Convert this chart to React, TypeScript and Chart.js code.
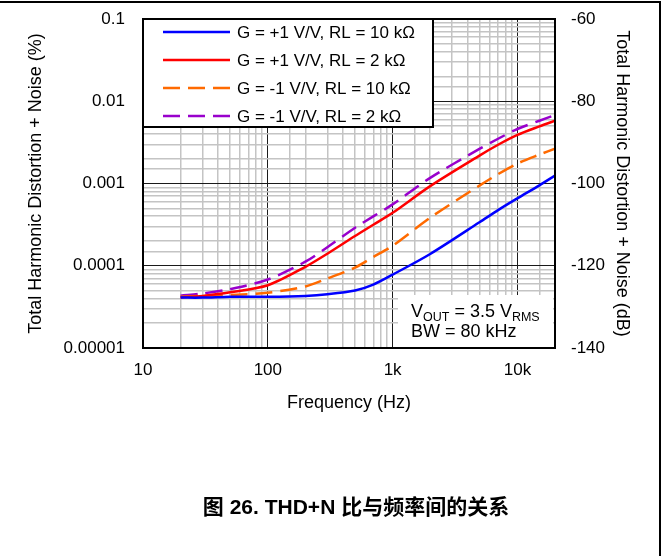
import React, { useEffect, useRef } from "react";
import { Chart, registerables } from "chart.js";

Chart.register(...registerables);

// ---------- data ----------
const frequenciesHz = [20, 30, 50, 100, 200, 300, 500, 700, 1000, 2000, 5000, 7000, 10000, 15000, 20000];

const seriesLabels = [
  "G = +1 V/V, RL = 10 kΩ",
  "G = +1 V/V, RL = 2 kΩ",
  "G = -1 V/V, RL = 10 kΩ",
  "G = -1 V/V, RL = 2 kΩ",
];

const thdG1RL10k = [4.1e-5, 4.1e-5, 4.2e-5, 4.2e-5, 4.3e-5, 4.5e-5, 5.0e-5, 5.9e-5, 7.8e-5, 1.39e-4, 3.4e-4, 4.75e-4, 6.6e-4, 9.5e-4, 1.25e-3];
const thdG1RL2k = [4.1e-5, 4.3e-5, 4.76e-5, 5.8e-5, 9.7e-5, 1.4e-4, 2.3e-4, 3.15e-4, 4.4e-4, 9.3e-4, 2.2e-3, 2.96e-3, 3.9e-3, 4.95e-3, 5.8e-3];
const thdGm1RL10k = [4.2e-5, 4.3e-5, 4.4e-5, 4.7e-5, 5.6e-5, 7.0e-5, 9.5e-5, 1.28e-4, 1.75e-4, 3.84e-4, 9.5e-4, 1.3e-3, 1.75e-3, 2.25e-3, 2.65e-3];
const thdGm1RL2k = [4.33e-5, 4.6e-5, 5.2e-5, 6.8e-5, 1.12e-4, 1.68e-4, 2.9e-4, 3.98e-4, 5.57e-4, 1.17e-3, 2.65e-3, 3.5e-3, 4.6e-3, 5.8e-3, 6.8e-3];

const xDecadeValues = [10, 100, 1000, 10000];
const xDecadeLabels = ["10", "100", "1k", "10k"];
const yDecadeValues = [1e-5, 1e-4, 1e-3, 1e-2, 1e-1];
const yDecadeLabels = ["0.00001", "0.0001", "0.001", "0.01", "0.1"];
const dbMin = -140;
const dbMax = -60;
const dbStep = 20;

const xTitle = "Frequency (Hz)";
const yTitle = "Total Harmonic Distortion + Noise (%)";
const y2Title = "Total Harmonic Distortion + Noise (dB)";
const caption = "图 26. THD+N 比与频率间的关系";

// ---------- styling ----------
const FONT = "'Liberation Sans', Arial, 'Noto Sans CJK SC', sans-serif";
const seriesColors = ["#0000ff", "#ff0000", "#ff6a00", "#9900cc"];
const seriesDashes: number[][] = [[], [], [17, 8], [17, 8]];
const seriesValues = [thdG1RL10k, thdG1RL2k, thdGm1RL10k, thdGm1RL2k];

const isDecade = (v: any) => {
  if (typeof v !== "number" || v <= 0) return false;
  const l = Math.log10(v);
  return Math.abs(l - Math.round(l)) < 1e-9;
};

const labelFor = (v: number, vals: number[], labels: string[]) => {
  for (let i = 0; i < vals.length; i++) {
    if (Math.abs(Math.log10(v) - Math.log10(vals[i])) < 1e-9) return labels[i];
  }
  return "";
};

const gridColor = (ctx: any) => (ctx.tick && isDecade(ctx.tick.value) ? "#1a1a1a" : "#c4c4c4");
const gridWidth = (ctx: any) => (ctx.tick && isDecade(ctx.tick.value) ? 1 : 1.5);

const boxesPlugin = {
  id: "thdBoxes",
  beforeDatasetsDraw(chart: any) {
    const { ctx, chartArea: a } = chart;
    ctx.save();
    // legend box
    const lx = a.left;
    const ly = a.top;
    const lw = 290;
    const lh = 108;
    ctx.fillStyle = "#ffffff";
    ctx.fillRect(lx, ly, lw, lh);
    ctx.lineWidth = 2;
    ctx.strokeStyle = "#000000";
    ctx.strokeRect(lx, ly, lw, lh);
    chart.data.datasets.forEach((ds: any, i: number) => {
      const y = ly + 13 + i * 28;
      ctx.beginPath();
      ctx.setLineDash(ds.borderDash || []);
      ctx.strokeStyle = ds.borderColor;
      ctx.lineWidth = ds.borderWidth;
      ctx.moveTo(lx + 20, y);
      ctx.lineTo(lx + 87, y);
      ctx.stroke();
      ctx.setLineDash([]);
      ctx.fillStyle = "#000000";
      ctx.font = `17px ${FONT}`;
      ctx.textBaseline = "middle";
      ctx.textAlign = "left";
      ctx.fillText(ds.label, lx + 94, y + 1);
    });
    // annotation box
    const bx = 398;
    const by = 295;
    ctx.fillStyle = "#ffffff";
    ctx.fillRect(bx, by, a.right - 2 - bx, a.bottom - by);
    ctx.fillStyle = "#000000";
    ctx.textBaseline = "alphabetic";
    ctx.textAlign = "left";
    let x = 411;
    const base1 = 317;
    const parts: [string, number, number][] = [
      ["V", 18, 0],
      ["OUT", 12.5, 3.5],
      [" = 3.5 V", 18, 0],
      ["RMS", 12.5, 3.5],
    ];
    for (const [t, s, dy] of parts) {
      ctx.font = `${s}px ${FONT}`;
      ctx.fillText(t, x, base1 + dy);
      x += ctx.measureText(t).width;
    }
    ctx.font = `18px ${FONT}`;
    ctx.fillText("BW = 80 kHz", 411, 337);
    ctx.restore();
  },
  afterDatasetsDraw(chart: any) {
    const { ctx, chartArea: a } = chart;
    ctx.save();
    ctx.lineWidth = 2;
    ctx.strokeStyle = "#000000";
    ctx.strokeRect(a.left, a.top, a.right - a.left, a.bottom - a.top);
    ctx.restore();
  },
};

const fitV = (w: number) => (s: any) => {
  s.width = w;
  s.paddingTop = 0;
  s.paddingBottom = 0;
};

export default function App() {
  const canvasRef = useRef<HTMLCanvasElement | null>(null);

  useEffect(() => {
    if (!canvasRef.current) return;
    const datasets = seriesValues.map((vals, i) => ({
      label: seriesLabels[i],
      data: frequenciesHz.map((f, j) => ({ x: f, y: vals[j] })),
      borderColor: seriesColors[i],
      backgroundColor: seriesColors[i],
      borderDash: seriesDashes[i],
      borderWidth: 2.5,
      pointRadius: 0,
      fill: false,
      tension: 0.3,
    }));

    const chart = new Chart(canvasRef.current, {
      type: "line",
      data: { datasets },
      plugins: [boxesPlugin],
      options: {
        responsive: false,
        animation: false,
        layout: { padding: { top: 19, left: 0, right: 0, bottom: 0 } },
        plugins: {
          legend: { display: false },
          tooltip: { enabled: false },
          title: { display: false },
        },
        scales: {
          x: {
            type: "logarithmic",
            position: "bottom",
            min: 10,
            max: 20000,
            afterFit: (s: any) => {
              s.height = 208;
              s.paddingLeft = 0;
              s.paddingRight = 0;
            },
            grid: { color: gridColor, lineWidth: gridWidth, drawTicks: false },
            border: { display: false },
            ticks: {
              autoSkip: false,
              maxRotation: 0,
              minRotation: 0,
              padding: 12,
              color: "#000",
              font: { family: FONT, size: 17 },
              callback: (v: any) => labelFor(Number(v), xDecadeValues, xDecadeLabels),
            },
            title: {
              display: true,
              text: xTitle,
              color: "#000",
              font: { family: FONT, size: 18 },
              padding: { top: 0, bottom: 142 },
            },
          },
          y: {
            type: "logarithmic",
            position: "left",
            min: 1e-5,
            max: 0.1,
            afterFit: fitV(143),
            grid: { color: gridColor, lineWidth: gridWidth, drawTicks: false },
            border: { display: false },
            ticks: {
              autoSkip: false,
              padding: 18,
              color: "#000",
              font: { family: FONT, size: 17 },
              callback: (v: any) => labelFor(Number(v), yDecadeValues, yDecadeLabels),
            },
            title: {
              display: true,
              text: yTitle,
              color: "#000",
              font: { family: FONT, size: 18 },
              padding: { top: 25, bottom: 0 },
            },
          },
          y2: {
            type: "linear",
            position: "right",
            min: dbMin,
            max: dbMax,
            afterFit: fitV(114),
            grid: { display: false, drawTicks: false },
            border: { display: false },
            ticks: {
              stepSize: dbStep,
              padding: 16,
              color: "#000",
              font: { family: FONT, size: 17 },
            },
            title: {
              display: true,
              text: y2Title,
              color: "#000",
              font: { family: FONT, size: 18 },
              padding: { top: 36, bottom: 0 },
            },
          },
        },
      } as any,
    });
    return () => chart.destroy();
  }, []);

  return (
    <div
      style={{
        position: "fixed",
        left: 0,
        top: 0,
        width: 669,
        height: 556,
        background: "#fff",
        overflow: "hidden",
      }}
    >
      <canvas ref={canvasRef} width={669} height={556} style={{ position: "absolute", left: 0, top: 0 }} />
      <div
        style={{
          position: "absolute",
          left: 0,
          top: 1,
          width: 659,
          height: 600,
          borderTop: "2px solid #000",
          borderRight: "2px solid #000",
          pointerEvents: "none",
        }}
      />
      <div
        style={{
          position: "absolute",
          left: 356,
          top: 494,
          transform: "translateX(-50%)",
          whiteSpace: "nowrap",
          fontFamily: FONT,
          fontWeight: "bold",
          fontSize: 21,
          lineHeight: "26px",
          color: "#000",
        }}
      >
        {caption}
      </div>
    </div>
  );
}
